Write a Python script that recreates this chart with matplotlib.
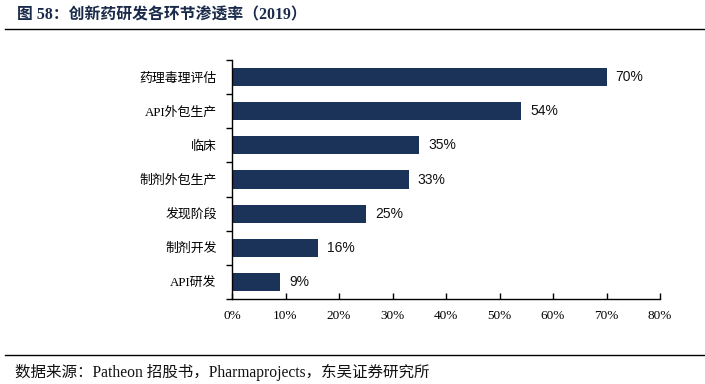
import matplotlib
matplotlib.use("Agg")
import matplotlib.pyplot as plt
from matplotlib.ticker import FixedLocator

categories = ["药理毒理评估", "API外包生产", "临床", "制剂外包生产", "发现阶段", "制剂开发", "API研发"]
values = [70, 54, 35, 33, 25, 16, 9]
xticks = [0, 10, 20, 30, 40, 50, 60, 70, 80]
title = "图 58：创新药研发各环节渗透率（2019）"
source = "数据来源：Patheon 招股书，Pharmaprojects，东吴证券研究所"

cjk = ["Liberation Serif", "Noto Sans CJK SC"]
bar_color = "#1b3358"

fig = plt.figure(figsize=(7.05, 3.84), dpi=100)
ax = fig.add_axes([232/705, 1-299/384, (660-232)/705, (299-60)/384])

n = len(categories)
ypos = list(range(n))[::-1]
ax.barh(ypos, values, height=0.53, color=bar_color)
for y, v in zip(ypos, values):
    ax.text(v + 1.7, y, f"{v}%", va="center", ha="left", fontsize=10,
            family="Liberation Sans", color="#111111")

ax.set_xlim(0, 80)
ax.set_ylim(-0.5, n - 0.5)
ax.set_xticks(xticks)
ax.set_xticklabels([f"{t}%" for t in xticks], family="Liberation Serif", fontsize=9.5)
ax.set_yticks(ypos)
ax.set_yticklabels(categories, family=cjk, fontsize=9.3)
ax.yaxis.set_minor_locator(FixedLocator([i + 0.5 for i in range(-1, n)]))
ax.tick_params(axis="y", which="major", length=0, pad=11)
ax.tick_params(axis="y", which="minor", length=4, direction="out", width=1)
ax.tick_params(axis="x", which="major", length=4, direction="in", width=1, pad=8)
for s in ["top", "right"]:
    ax.spines[s].set_visible(False)
for s in ["left", "bottom"]:
    ax.spines[s].set_linewidth(1)
    ax.spines[s].set_color("black")

fig.text(17/705, 1-15/384, title, family=["Liberation Serif", "Noto Sans CJK SC"],
         fontweight="bold", fontsize=11.4, color="#1a2a4a", va="center", ha="left")
fig.add_artist(plt.Line2D([5/705, 1.0], [1-29/384, 1-29/384], color="black", lw=1))
fig.add_artist(plt.Line2D([5/705, 1.0], [1-355/384, 1-355/384], color="black", lw=1))
fig.text(15/705, 1-372/384, source, family=cjk, fontsize=11.2, color="#111111",
         va="center", ha="left")

fig.savefig("out.png", dpi=100)
